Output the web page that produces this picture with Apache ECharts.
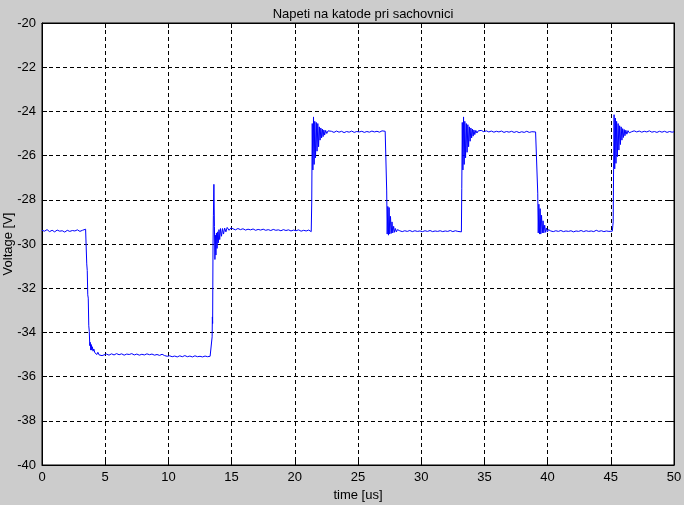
<!DOCTYPE html>
<html>
<head>
<meta charset="utf-8">
<script src="https://cdn.jsdelivr.net/npm/echarts@6/dist/echarts.min.js"></script>
<style>
html,body{margin:0;padding:0;background:#cccccc;}
#chart{width:684px;height:505px;}
</style>
</head>
<body>
<div id="chart"></div>
<script>
// Tick settings
const xTicks = {min: 0, max: 50, interval: 5};
const yTicks = {min: -40, max: -20, interval: 2};
const titleText = 'Napeti na katode pri sachovnici';
const xName = 'time [us]';
const yName = 'Voltage [V]';

// Measured waveform, [time us, voltage V], in segments
const segLow0 = [[0,-29.38],[0.2,-29.42],[0.4,-29.35],[0.6,-29.44],[0.8,-29.38],[1.0,-29.45],[1.2,-29.37],[1.4,-29.42],[1.6,-29.4],[1.8,-29.46],[2.0,-29.38],[2.2,-29.43],[2.4,-29.39],[2.6,-29.41],[2.8,-29.36],[3.0,-29.43],[3.2,-29.38],[3.35,-29.41],[3.45,-29.33]];
const segFall0 = [[3.5,-29.4],[3.54,-30.9],[3.58,-31.2],[3.62,-32.3],[3.66,-32.45],[3.70,-33.7],[3.74,-33.95],[3.78,-34.6],[3.82,-34.45],[3.86,-34.8],[3.90,-34.55],[3.94,-34.8],[3.98,-34.65],[4.04,-34.85],[4.10,-34.75],[4.18,-34.92],[4.26,-34.85],[4.34,-35.0],[4.42,-34.9],[4.52,-35.02],[4.62,-34.95],[4.75,-35.05]];
const segLow35 = [[4.9,-35.02],[5.1,-34.98],[5.3,-35.03],[5.5,-34.97],[5.7,-35.02],[5.9,-34.96],[6.1,-35.01],[6.3,-34.97],[6.5,-35.03],[6.7,-34.98],[6.9,-35.0],[7.1,-34.96],[7.3,-35.02],[7.5,-34.98],[7.7,-35.03],[7.9,-34.99],[8.1,-35.02],[8.3,-34.97],[8.5,-35.01],[8.7,-34.98],[8.9,-35.03],[9.1,-35.0],[9.3,-35.04],[9.5,-34.99],[9.7,-35.05],[9.9,-35.08],[10.1,-35.06],[10.3,-35.1],[10.5,-35.07],[10.7,-35.11],[10.9,-35.06],[11.1,-35.1],[11.3,-35.05],[11.5,-35.1],[11.7,-35.07],[11.9,-35.11],[12.1,-35.06],[12.3,-35.1],[12.5,-35.08],[12.7,-35.11],[12.9,-35.07],[13.1,-35.1],[13.3,-35.08],[13.42,-35.1]];
const segRise0 = [[13.46,-34.2],[13.48,-33.3],[13.50,-33.6],[13.53,-30.0],[13.56,-28.7],[13.60,-27.3],[13.64,-29.2],[13.68,-30.7],[13.72,-29.6],[13.76,-30.5],[13.80,-29.5],[13.85,-30.2],[13.90,-29.45],[13.95,-29.95],[14.0,-29.35],[14.06,-29.8],[14.12,-29.3],[14.2,-29.65],[14.28,-29.3],[14.36,-29.55],[14.45,-29.28],[14.55,-29.45],[14.65,-29.25],[14.8,-29.38],[14.95,-29.27]];
const segLow1 = [[15.1,-29.32],[15.3,-29.36],[15.5,-29.3],[15.7,-29.35],[15.9,-29.31],[16.1,-29.37],[16.3,-29.33],[16.5,-29.36],[16.7,-29.32],[16.9,-29.38],[17.1,-29.34],[17.3,-29.37],[17.5,-29.33],[17.7,-29.38],[17.9,-29.35],[18.1,-29.39],[18.3,-29.34],[18.5,-29.38],[18.7,-29.36],[18.9,-29.4],[19.1,-29.35],[19.3,-29.39],[19.5,-29.36],[19.7,-29.41],[19.9,-29.37],[20.1,-29.4],[20.3,-29.36],[20.5,-29.42],[20.7,-29.38],[20.9,-29.41],[21.1,-29.37],[21.3,-29.44]];
const segRise1 = [[21.34,-28.1],[21.38,-24.55],[21.43,-26.65],[21.48,-24.25],[21.53,-26.4],[21.58,-24.45],[21.64,-26.1],[21.70,-24.5],[21.76,-25.8],[21.82,-24.55],[21.88,-25.6],[21.94,-24.7],[22.00,-25.3],[22.06,-24.75],[22.12,-25.2],[22.18,-24.8],[22.24,-25.14],[22.30,-24.84],[22.36,-25.07],[22.44,-24.86],[22.53,-25.0],[22.63,-24.88],[22.73,-24.97]];
const segHigh1 = [[22.9,-24.9],[23.1,-24.95],[23.3,-24.89],[23.5,-24.94],[23.7,-24.9],[23.9,-24.96],[24.1,-24.91],[24.3,-24.94],[24.5,-24.89],[24.7,-24.95],[24.9,-24.91],[25.1,-24.93],[25.3,-24.9],[25.5,-24.95],[25.7,-24.91],[25.9,-24.94],[26.1,-24.89],[26.3,-24.93],[26.5,-24.9],[26.7,-24.94],[26.9,-24.88],[27.05,-24.8],[27.15,-24.9],[27.22,-24.93]];
const segFall1 = [[27.27,-27.6],[27.31,-29.55],[27.36,-28.3],[27.41,-29.6],[27.46,-28.35],[27.51,-29.55],[27.57,-28.75],[27.63,-29.52],[27.69,-29.0],[27.75,-29.5],[27.82,-29.2],[27.89,-29.47],[27.96,-29.3],[28.04,-29.45],[28.12,-29.35],[28.2,-29.44]];
const segLow2 = [[28.3,-29.4],[28.5,-29.44],[28.7,-29.4],[28.9,-29.43],[29.1,-29.39],[29.3,-29.44],[29.5,-29.4],[29.7,-29.43],[29.9,-29.41],[30.1,-29.44],[30.3,-29.4],[30.5,-29.43],[30.7,-29.39],[30.9,-29.44],[31.1,-29.41],[31.3,-29.43],[31.5,-29.4],[31.7,-29.44],[31.9,-29.41],[32.1,-29.43],[32.3,-29.39],[32.5,-29.44],[32.7,-29.4],[32.9,-29.43],[33.05,-29.41],[33.18,-29.45]];
const segRise2 = [[33.21,-27.5],[33.25,-24.5],[33.30,-26.65],[33.35,-24.25],[33.40,-26.4],[33.45,-24.45],[33.51,-26.1],[33.57,-24.55],[33.63,-25.85],[33.69,-24.6],[33.75,-25.6],[33.81,-24.7],[33.87,-25.35],[33.93,-24.75],[33.99,-25.2],[34.05,-24.8],[34.11,-25.12],[34.17,-24.84],[34.24,-25.05],[34.32,-24.86],[34.41,-24.98],[34.51,-24.88],[34.61,-24.95]];
const segHigh2 = [[34.75,-24.86],[34.95,-24.92],[35.15,-24.88],[35.35,-24.93],[35.55,-24.89],[35.75,-24.94],[35.95,-24.9],[36.15,-24.93],[36.35,-24.89],[36.55,-24.95],[36.75,-24.91],[36.95,-24.94],[37.15,-24.9],[37.35,-24.95],[37.55,-24.91],[37.75,-24.96],[37.95,-24.92],[38.15,-24.95],[38.35,-24.9],[38.55,-24.95],[38.75,-24.92],[38.9,-24.85],[39.05,-24.93],[39.17,-24.9]];
const segFall2 = [[39.22,-27.7],[39.26,-29.5],[39.31,-28.2],[39.36,-29.55],[39.41,-28.4],[39.46,-29.55],[39.52,-28.7],[39.58,-29.5],[39.64,-28.95],[39.70,-29.5],[39.77,-29.15],[39.84,-29.47],[39.91,-29.28],[39.99,-29.45],[40.07,-29.35],[40.15,-29.44]];
const segLow3 = [[40.25,-29.41],[40.45,-29.44],[40.65,-29.4],[40.85,-29.43],[41.05,-29.39],[41.25,-29.44],[41.45,-29.41],[41.65,-29.43],[41.85,-29.4],[42.05,-29.45],[42.25,-29.41],[42.45,-29.43],[42.65,-29.39],[42.85,-29.44],[43.05,-29.4],[43.25,-29.43],[43.45,-29.41],[43.65,-29.44],[43.85,-29.38],[44.05,-29.43],[44.25,-29.4],[44.45,-29.44],[44.65,-29.41],[44.85,-29.43],[45.0,-29.4],[45.12,-29.42]];
const segRise3 = [[45.17,-29.4],[45.19,-29.0],[45.22,-26.6],[45.26,-24.15],[45.31,-26.6],[45.36,-24.3],[45.41,-26.35],[45.46,-24.45],[45.52,-26.05],[45.58,-24.55],[45.64,-25.75],[45.70,-24.65],[45.76,-25.5],[45.82,-24.7],[45.88,-25.3],[45.94,-24.78],[46.00,-25.18],[46.06,-24.82],[46.12,-25.1],[46.19,-24.85],[46.27,-25.03],[46.36,-24.87],[46.46,-24.97],[46.56,-24.89]];
const segHigh3 = [[46.65,-24.92],[46.85,-24.88],[47.05,-24.93],[47.25,-24.89],[47.45,-24.94],[47.65,-24.9],[47.85,-24.93],[48.05,-24.88],[48.25,-24.94],[48.45,-24.91],[48.65,-24.95],[48.85,-24.9],[49.05,-24.94],[49.25,-24.9],[49.45,-24.95],[49.65,-24.91],[49.85,-24.94],[50,-24.92]];

const waveform = [].concat(segLow0, segFall0, segLow35, segRise0, segLow1, segRise1, segHigh1, segFall1, segLow2, segRise2, segHigh2, segFall2, segLow3, segRise3, segHigh3);

const FONT = 'Liberation Sans, Arial, sans-serif';
const chart = echarts.init(document.getElementById('chart'), null, {renderer: 'canvas'});
const dashed = {show: true, lineStyle: {color: '#000', type: [4, 3], width: 1}};
const baseLine = {show: true, onZero: false, lineStyle: {color: '#000', width: 1}};
const inTick = {show: true, inside: true, length: 5, lineStyle: {color: '#000'}};

chart.setOption({
  animation: false,
  backgroundColor: '#cccccc',
  title: {
    text: titleText, left: 358, top: 3, textAlign: 'center',
    textStyle: {fontFamily: FONT, fontSize: 13, fontWeight: 'normal', color: '#000'}
  },
  grid: {left: 42, right: 10, top: 23, bottom: 40, containLabel: false, outerBoundsMode: 'none',
         show: true, backgroundColor: '#ffffff', borderColor: '#000', borderWidth: 1},
  xAxis: [{
    type: 'value', min: xTicks.min, max: xTicks.max, interval: xTicks.interval, position: 'bottom',
    name: xName, nameLocation: 'middle', nameGap: 21,
    nameTextStyle: {fontFamily: FONT, fontSize: 13, color: '#000'},
    axisLine: baseLine, axisTick: inTick, splitLine: dashed,
    axisLabel: {fontFamily: FONT, fontSize: 13, color: '#000', margin: 6}
  }, {
    type: 'value', min: xTicks.min, max: xTicks.max, interval: xTicks.interval, position: 'top',
    axisLine: baseLine, axisTick: inTick, splitLine: {show: false}, axisLabel: {show: false}
  }],
  yAxis: [{
    type: 'value', min: yTicks.min, max: yTicks.max, interval: yTicks.interval, position: 'left',
    name: yName, nameLocation: 'middle', nameGap: 27, nameMoveOverlap: false,
    nameTextStyle: {fontFamily: FONT, fontSize: 13, color: '#000'},
    axisLine: baseLine, axisTick: inTick, splitLine: dashed,
    axisLabel: {fontFamily: FONT, fontSize: 13, color: '#000', margin: 6}
  }, {
    type: 'value', min: yTicks.min, max: yTicks.max, interval: yTicks.interval, position: 'right',
    axisLine: baseLine, axisTick: inTick, splitLine: {show: false}, axisLabel: {show: false}
  }],
  series: [{
    type: 'line', xAxisIndex: 0, yAxisIndex: 0, data: waveform,
    showSymbol: false, symbol: 'none',
    lineStyle: {color: '#0000ff', width: 1}, itemStyle: {color: '#0000ff'}
  }]
});
</script>
</body>
</html>
